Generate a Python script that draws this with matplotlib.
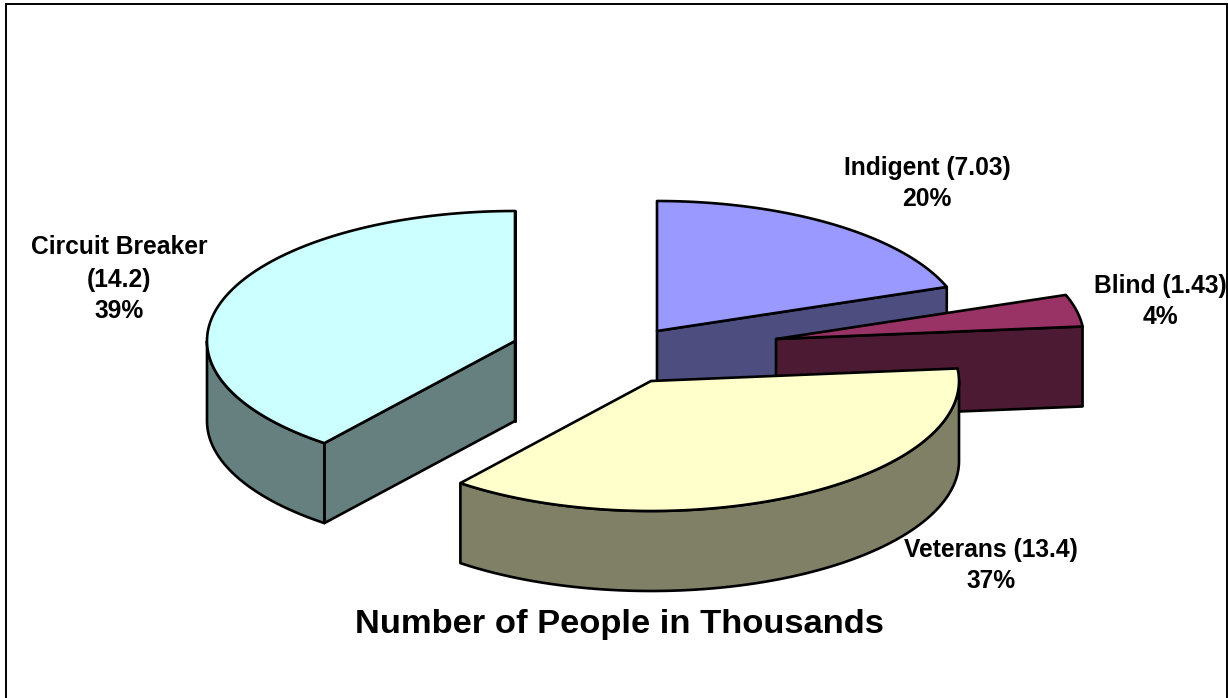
import numpy as np
import matplotlib
matplotlib.use('Agg')
import matplotlib.pyplot as plt
from matplotlib.patches import Polygon

plt.rcParams['font.family'] = ['Liberation Sans', 'DejaVu Sans']

# 数据
names = ['Indigent', 'Blind', 'Veterans', 'Circuit Breaker']
values = [7.03, 1.43, 13.4, 14.2]
value_labels = ['7.03', '1.43', '13.4', '14.2']
percents = ['20%', '4%', '37%', '39%']
top_colors = ['#9999FF', '#993366', '#FFFFCC', '#CCFFFF']
side_colors = ['#4D4D80', '#4D1A33', '#808066', '#668080']

# 每块扇形的顶点位置(爆炸效果)
apex = [(657, 331), (776, 339), (651, 381), (515, 341)]
rx, ry, depth = 308, 130, 80
W, H = 1228, 698

fig = plt.figure(figsize=(W / 100, H / 100), dpi=100)
ax = fig.add_axes([0, 0, 1, 1])
ax.set_xlim(0, W)
ax.set_ylim(H, 0)
ax.axis('off')


def rim(cx, cy, a0, a1):
    """椭圆边缘上的点，角度从12点钟方向顺时针"""
    t = np.radians(np.linspace(a0, a1, max(int(a1 - a0) * 2, 2)))
    return np.column_stack([cx + rx * np.sin(t), cy - ry * np.cos(t)])


def draw_face(pts, color):
    ax.add_patch(Polygon(pts, closed=True, facecolor=color, edgecolor='black',
                         linewidth=1.9, joinstyle='round'))


def extrude(pts):
    return np.vstack([pts, pts[::-1] + [0, depth]])


# 角度由数值算出
edges = np.concatenate([[0], np.cumsum(values)]) / np.sum(values) * 360

for i in range(len(values)):
    cx, cy = apex[i]
    a0, a1 = edges[i], edges[i + 1]
    center = np.array([[cx, cy]])

    # 切面
    if 90 < a0 < 270:
        draw_face(extrude(np.vstack([center, rim(cx, cy, a0, a0)[:1]])), side_colors[i])
    if a1 < 90 or a1 >= 270:
        draw_face(extrude(np.vstack([center, rim(cx, cy, a1, a1)[:1]])), side_colors[i])

    # 外侧面
    lo, hi = max(a0, 90), min(a1, 270)
    if lo < hi:
        draw_face(extrude(rim(cx, cy, lo, hi)), side_colors[i])

    # 顶面
    draw_face(np.vstack([center, rim(cx, cy, a0, a1)]), top_colors[i])

# 边框(底边没有)
ax.plot([6, 6, 1227, 1227], [H, 4, 4, H], color='black', linewidth=1.4, solid_joinstyle='miter')

label_font = dict(fontsize=17.7, fontweight='bold', ha='center', va='center', color='black')
ax.text(927, 168.5, f'{names[0]} ({value_labels[0]})', **label_font)
ax.text(927, 199.5, percents[0], **label_font)
ax.text(1160, 285.5, f'{names[1]} ({value_labels[1]})', **label_font)
ax.text(1160, 317.5, percents[1], **label_font)
ax.text(991, 549.5, f'{names[2]} ({value_labels[2]})', **label_font)
ax.text(991, 581.5, percents[2], **label_font)
ax.text(119, 247.5, names[3], **label_font)
ax.text(119, 279.5, f'({value_labels[3]})', **label_font)
ax.text(119, 311.5, percents[3], **label_font)

ax.text(619, 624, 'Number of People in Thousands', fontsize=24.8, fontweight='bold',
        ha='center', va='center', color='black')

fig.savefig('out.png', dpi=100)
plt.close(fig)
